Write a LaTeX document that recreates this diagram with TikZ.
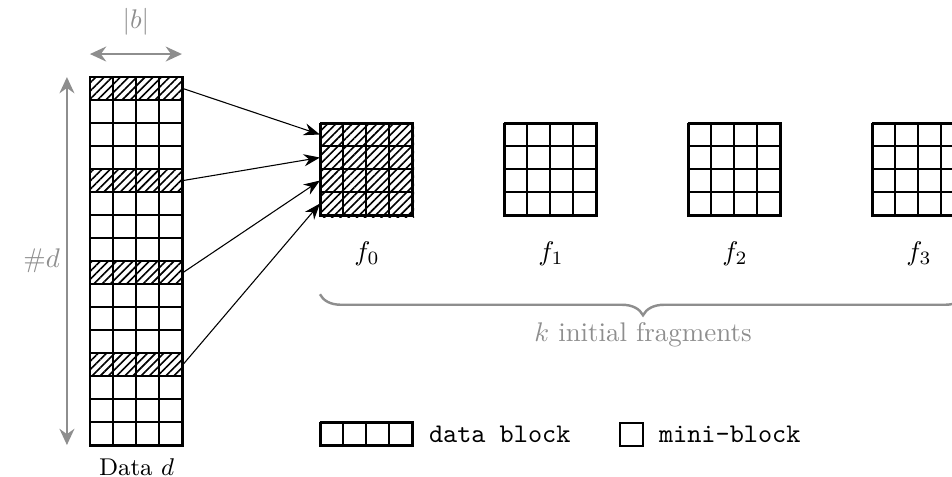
\documentclass[tikz,border=0pt]{standalone}
\definecolor{dim}{HTML}{8E8E8E}
\usepackage{tikz}
\usetikzlibrary{calc}
\usetikzlibrary{positioning}
\usetikzlibrary{arrows.meta}
\usetikzlibrary{patterns.meta}
\usetikzlibrary{decorations.pathreplacing}
\usepackage{amsmath}

\begin{document}
\begin{tikzpicture}[x=0.3cm, y=0.3cm,
    minigrid/.style={thick, step=1},
    hatch/.style={pattern={Lines[angle=45, distance=2.15pt, line width=0.6pt]}},
    blk/.style={rectangle, draw, thick, inner sep=0pt, minimum width=1.2cm, minimum height=1.2cm, anchor=north west},
    measure/.style={dim, line width=1pt, {Stealth[length=6pt,width=5.5pt]}-{Stealth[length=6pt,width=5.5pt]}}]
      \useasboundingbox (-3.91,3.35) rectangle (37.48,-17.35);
      % data column, 16 data blocks
      \node[rectangle, inner sep=0pt, minimum width=1.2cm, minimum height=4.8cm, anchor=north west] (data) at (0,0) {};
      \foreach \r in {0,4,8,12} \fill[hatch] (0,-\r) rectangle (4,-\r-1);
      \draw[minigrid] (0,0) grid (4,-16);
      \draw[thick] (data.north west) rectangle (data.south east);
      \node[yshift=-0.27cm] (datalbl) at (data.south) {\small Data $d$};
      % measures
      \coordinate (bw) at (0,1);
      \coordinate (be) at (4,1);
      \draw[measure] (bw) -- (be);
      \node[dim] (blbl) at (2,2.4) {$|b|$};
      \coordinate (dn) at (-1,0);
      \coordinate (ds) at (-1,-16);
      \draw[measure] (dn) -- (ds);
      \node[dim] (dlbl) at (-2.1,-8) {$\#d$};
      % fragments
      \foreach \i in {0,...,3} {
        \node[blk] (f\i) at (10+8*\i,-2) {};
        \draw[minigrid] (f\i.north west) grid (f\i.south east);
        \node[yshift=-0.48cm] (lbl\i) at (f\i.south) {$f_{\i}$};
      }
      \fill[hatch] (f0.north west) rectangle (f0.south east);
      % data blocks to f0
      \foreach \r [count=\k from 0] in {0,4,8,12} {
        \coordinate (src\k) at ($(data.north east)+(0,-\r-0.5)$);
        \coordinate (dst\k) at ($(f0.north west)+(0,-\k-0.5)$);
        \draw[-{Stealth[length=6pt,width=4.5pt]}] (src\k) -- (dst\k);
      }
      % brace
      \coordinate (kw) at ($(f0.south west)+(0,-3.35)$);
      \coordinate (ke) at ($(f3.south east)+(0,-3.35)$);
      \draw[dim, line width=0.9pt, decorate, decoration={brace, mirror, amplitude=7.8pt}] (kw) -- (ke);
      \node[dim] (klbl) at ($(kw)!0.5!(ke)+(0,-1.75)$) {$k$ initial fragments};
      % legend
      \node[rectangle, draw, thick, inner sep=0pt, minimum width=1.2cm, minimum height=0.3cm, anchor=north west] (legblk) at (10,-15) {};
      \draw[minigrid] (legblk.north west) grid (legblk.south east);
      \node[right=2pt of legblk] (legblktxt) {\texttt{data block}};
      \node[rectangle, draw, thick, inner sep=0pt, minimum size=0.3cm, anchor=north west] (legmini) at (23,-15) {};
      \node[right=2pt of legmini] (legminitxt) {\texttt{mini-block}};
    \end{tikzpicture}
\end{document}
